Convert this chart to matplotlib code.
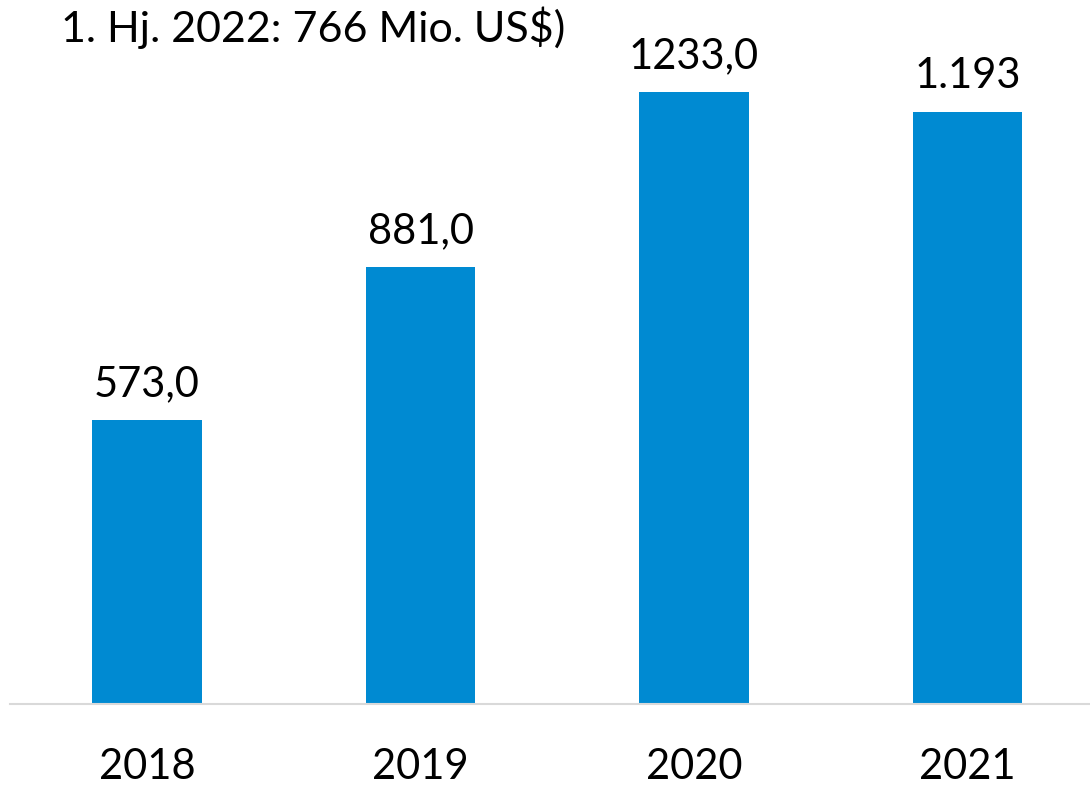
import matplotlib
matplotlib.use('Agg')
import matplotlib.pyplot as plt

# Daten
jahre = ['2018', '2019', '2020', '2021']
werte = [573.0, 881.0, 1233.0, 1193.0]
beschriftung = ['573,0', '881,0', '1233,0', '1.193']
titel = '1. Hj. 2022: 766 Mio. US$)'

plt.rcParams['font.family'] = ['Lato', 'DejaVu Sans']

W, H = 1090, 785
fig = plt.figure(figsize=(W / 100, H / 100), dpi=100)
ax = fig.add_axes([10 / W, (H - 704) / H, 1080 / W, 704 / H])

x = list(range(len(jahre)))
ax.bar(x, werte, width=0.4, color='#008AD2', zorder=2)

ax.set_xlim((10 - 147) / 273.5, (1090 - 147) / 273.5)
ax.set_ylim(0, 704 / 0.4963)

# Werte über den Balken
for xi, v, t in zip(x, werte, beschriftung):
    ax.annotate(t, (xi, v), xytext=(0, 17), textcoords='offset points',
                ha='center', va='baseline', fontsize=30, color='black')

ax.set_xticks(x)
ax.set_xticklabels(jahre, fontsize=30)
ax.tick_params(axis='x', length=0, pad=32)
ax.set_yticks([])

for s in ['top', 'left', 'right']:
    ax.spines[s].set_visible(False)
ax.spines['bottom'].set_color('#d9d9d9')
ax.spines['bottom'].set_linewidth(1.5)

fig.text(61 / W, 1 - 42 / H, titel, fontsize=31, va='baseline', ha='left')

fig.savefig('out.png', dpi=100)
